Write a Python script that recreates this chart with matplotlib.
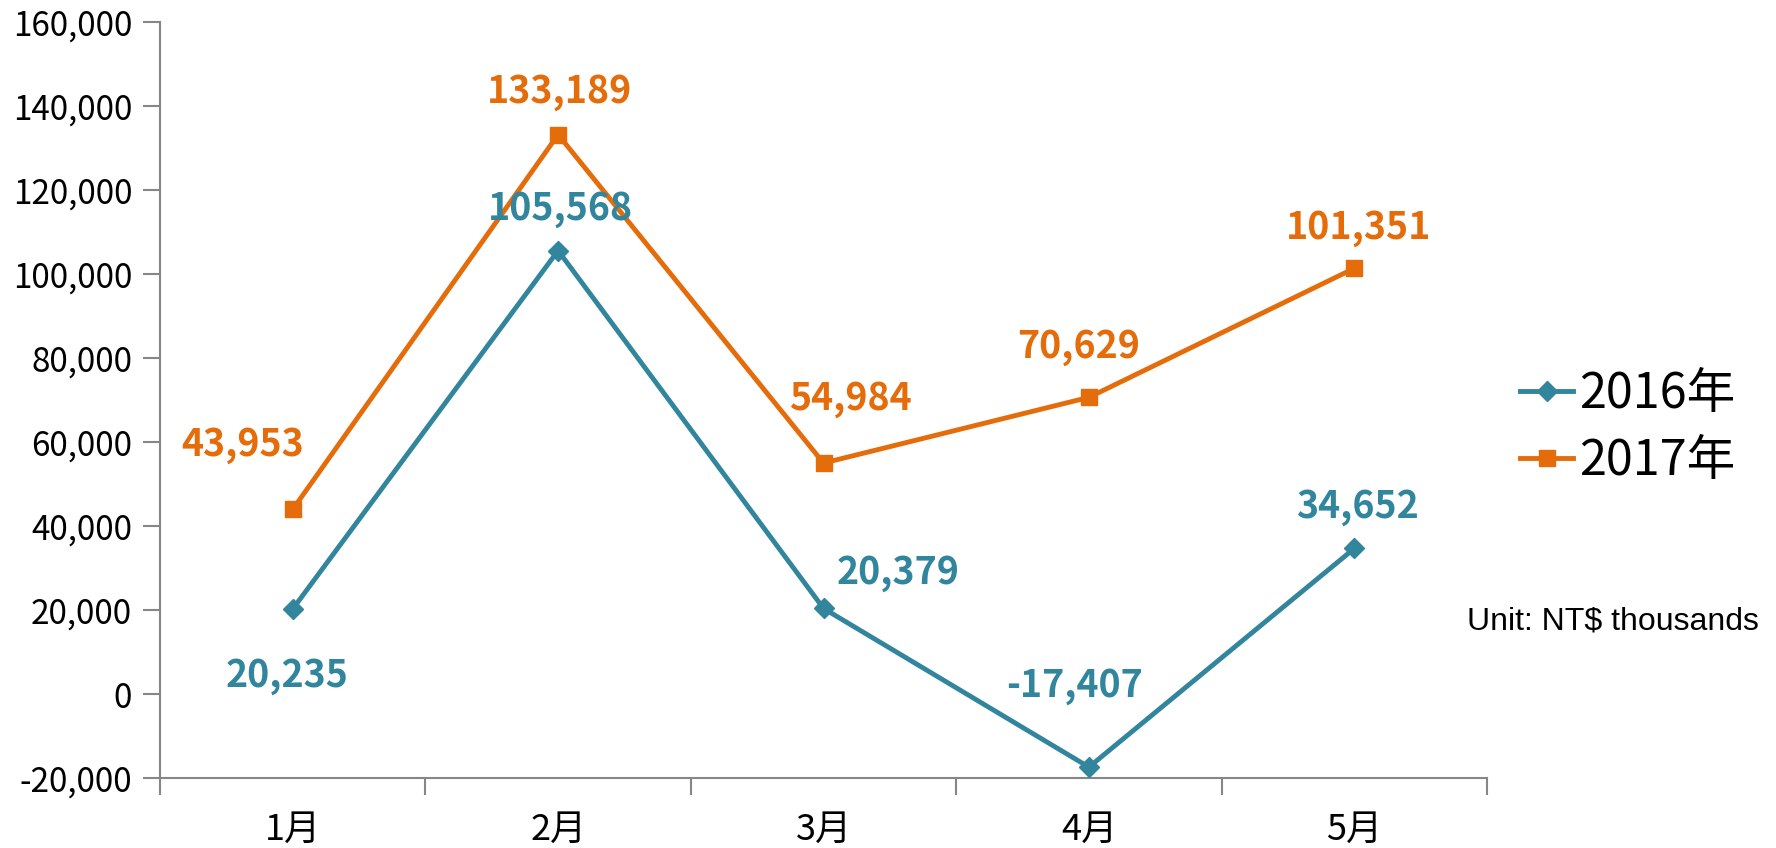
import matplotlib
matplotlib.use("Agg")
import matplotlib.pyplot as plt
from matplotlib.ticker import FuncFormatter, FixedLocator

months = ["1月", "2月", "3月", "4月", "5月"]
series_names = ["2016年", "2017年"]
values_2016 = [20235, 105568, 20379, -17407, 34652]
values_2017 = [43953, 133189, 54984, 70629, 101351]
yticks = list(range(-20000, 160001, 20000))
unit_text = "Unit: NT$ thousands"

c16 = "#31859C"
c17 = "#E46C0A"
fam = ["Noto Sans CJK TC", "DejaVu Sans"]
plt.rcParams["font.family"] = fam

fig = plt.figure(figsize=(17.76, 8.48), dpi=100)
ax = fig.add_axes([160/1776, 1-778/848, (1487-160)/1776, (778-22)/848])

x = list(range(len(months)))
l16, = ax.plot(x, values_2016, color=c16, lw=3.5, marker="D", ms=10, label=series_names[0], zorder=3)
l17, = ax.plot(x, values_2017, color=c17, lw=3.5, marker="s", ms=11, label=series_names[1], zorder=3)

ax.set_xlim(-0.5, len(months)-0.5)
ax.set_ylim(-20000, 160000)
ax.set_yticks(yticks)
ax.yaxis.set_major_formatter(FuncFormatter(lambda v, p: f"{int(v):,}"))
ax.set_xticks(x)
ax.set_xticklabels(months)
ax.xaxis.set_minor_locator(FixedLocator([i-0.5 for i in range(len(months)+1)]))
ax.tick_params(axis="x", which="major", length=0, pad=24, labelsize=26)
ax.tick_params(axis="x", which="minor", length=12, width=1.5, color="#868686", direction="out")
ax.tick_params(axis="y", length=12, width=1.5, color="#868686", direction="out", labelsize=24, pad=8)
for s in ["top", "right"]:
    ax.spines[s].set_visible(False)
for s in ["left", "bottom"]:
    ax.spines[s].set_color("#868686")
    ax.spines[s].set_linewidth(1.5)

off16 = [(-6, -66), (2, 42), (75, 36), (-14, 82), (3, 42)]
off17 = [(-50, 65), (1, 43), (27, 65), (-10, 51), (4, 41)]
for xi, v, o in zip(x, values_2016, off16):
    ax.annotate(f"{v:,}", (xi, v), xytext=o, textcoords="offset pixels",
                ha="center", va="center", color=c16, fontsize=27, fontweight="bold")
for xi, v, o in zip(x, values_2017, off17):
    ax.annotate(f"{v:,}", (xi, v), xytext=o, textcoords="offset pixels",
                ha="center", va="center", color=c17, fontsize=27, fontweight="bold")

fig.legend(handles=[l16, l17], loc="center left", bbox_to_anchor=(1520/1776, 1-428/848),
           frameon=False, fontsize=35, handlelength=1.1, handletextpad=0.12,
           labelspacing=0.35, borderpad=0, borderaxespad=0)
fig.text(1759/1776, 1-622/848, unit_text, ha="right", va="center", fontsize=23,
         family=["Liberation Sans", "DejaVu Sans"])

fig.savefig("out.png", dpi=100)
